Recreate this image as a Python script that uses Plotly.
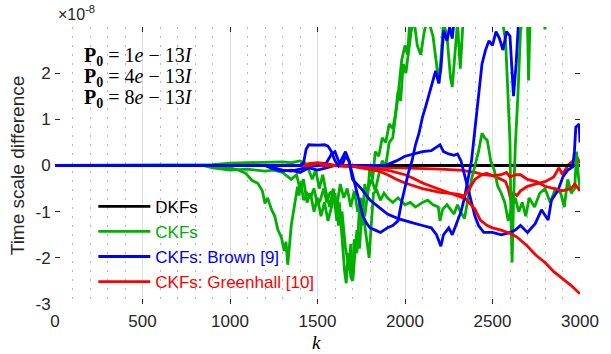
import plotly.graph_objects as go

# ---------------- data (time-scale difference, in units of 1e-8) ----------------
dkf_k = [0, 3000]
dkf_v = [0, 0]

# CKFs (green), three initial covariances
g1_k = [0, 850, 900, 950, 1000, 1050, 1090, 1125, 1160, 1185, 1200, 1215, 1237, 1256, 1274, 1293, 1310, 1320,
        1330, 1340, 1350, 1367, 1386, 1395, 1405, 1420, 1440, 1460, 1480, 1500, 1516, 1535, 1553, 1570, 1590,
        1610, 1630, 1650, 1670, 1690, 1710, 1730, 1750, 1770, 1785, 1795, 1805, 1820, 1840, 1860, 1880, 1900,
        1930, 1960, 2000, 2030, 2060, 2100, 2130, 2160, 2190, 2200, 2215, 2240, 2260, 2280, 2300, 2316, 2340,
        2360, 2380, 2400, 2420, 2440, 2455, 2470, 2490, 2510, 2530, 2550, 2570, 2590, 2610, 2630, 2650, 2670,
        2690, 2710, 2740, 2770, 2800, 2830, 2860, 2890, 2910, 2930, 2950, 2970, 2980, 2990, 3000]
g1_v = [0, 0, -0.03, -0.06, -0.05, -0.1, -0.17, -0.32, -0.39, -0.55, -0.82, -0.7, -0.95, -1.1, -1.4, -1.55, -1.85, -1.65,
        -2.15, -1.8, -1.3, -0.9, -0.46, -0.65, -0.35, -0.75, -0.6, -0.7, -0.5, -0.85, -0.75, -0.5, -0.8, -0.6, -0.55,
        -0.9, -0.4, -0.7, -0.5, -0.9, -0.55, -1.0, -0.7, -1.3, -1.7, -2.0, -1.4, -0.6, -0.55, -0.75, -0.6, -0.7,
        -0.8, -0.7, -0.85, -0.8, -0.9, -0.8, -0.75, -0.85, -0.9, -1.2, -0.95, -0.85, -0.95, -1.05, -0.85, -1.0, -1.15,
        -0.7, -0.3, 0.0, 0.3, 0.7, 0.6, 0.55, 0.1, -0.1, -0.45, -0.6, -0.8, -1.2, -0.9, -0.7, -1.0, -0.8,
        -1.1, -0.7, -0.9, -0.6, -0.5, -0.8, -0.5, -0.6, -0.9, -0.3, -0.6, -0.5, 0.3, -0.2, -0.5]

g2_k = [0, 900, 1000, 1100, 1200, 1300, 1350, 1400, 1430, 1450, 1470, 1490, 1510, 1530, 1550, 1570, 1590, 1610,
        1625, 1640, 1655, 1664, 1675, 1690, 1700, 1710, 1725, 1740, 1755, 1770, 1785, 1800, 1815, 1830, 1850,
        1870, 1890, 1910, 1930, 1945, 1960, 1975, 1990, 2005, 2020, 2035, 2050, 2070, 2090, 2110, 2130, 2160,
        2180, 2193, 2205, 2220, 2240, 2260, 2270, 2285, 2300, 2316, 2330, 2350, 2400, 2450, 2500, 2540, 2560,
        2575, 2590, 2600, 2605, 2612, 2620, 2630, 2645, 2660, 2680, 2700, 2706, 2715, 2750, 2790, 2800, 2810,
        2850, 2900, 3000]
g2_v = [0, 0.02, 0.05, 0.06, 0.07, 0.08, 0.06, 0.1, 0.05, -0.1, -0.3, -0.1, -0.5, -0.2, -0.6, -0.9, -0.5, -1.2,
        -0.8, -1.6, -2.3, -2.55, -1.9, -2.4, -2.5, -1.6, -1.9, -0.9, -1.3, -0.4, -0.7, 0.0, -0.3, 0.3, 0.2,
        0.6, 0.5, 0.9, 0.8, 1.1, 1.6, 1.4, 2.2, 2.0, 2.5, 2.9, 3.2, 2.6, 2.4, 2.9, 3.2, 2.8,
        2.2, 1.78, 2.3, 3.1, 2.8, 1.9, 1.7, 2.4, 3.1, 2.1, 3.0, 3.4, 3.6, 3.5, 3.6, 3.4, 3.05,
        2.7, 1.4, 0.5, -1.0, -2.1, -0.8, 0.4, 1.5, 2.9, 3.4, 3.1, 1.84, 3.2, 3.5, 3.2, 2.95, 3.3,
        3.6, 3.8, 4.0]

g3_k = [0, 850, 900, 1000, 1100, 1200, 1250, 1300, 1350, 1380, 1400, 1420, 1440, 1460, 1480, 1500, 1520, 1540,
        1560, 1580, 1600, 1620, 1640, 1660, 1680, 1690, 1702, 1712, 1725, 1740, 1755, 1770, 1790, 1810, 1830,
        1850, 1870, 1890, 1910, 1930, 1943, 1960, 1981, 2000, 2015, 2030, 2060, 2100, 2200, 2300, 2400, 2500,
        2600, 2700, 2800, 2900, 3000]
g3_v = [0, 0, -0.05, -0.1, -0.08, -0.12, -0.1, -0.15, -0.3, -0.2, -0.5, -0.3, -0.8, -0.6, -1.0, -0.7, -1.1, -0.8,
        -1.2, -0.9, -0.6, -1.3, -1.0, -1.8, -2.2, -1.7, -2.48, -2.0, -1.4, -1.8, -0.9, -1.1, -0.5, -0.3, -0.55,
        -0.2, 0.1, 0.0, 0.5, 0.6, 1.0, 1.5, 2.28, 2.6, 2.4, 3.3, 3.6, 3.8, 4.0, 4.0, 4.0, 4.0,
        4.0, 4.0, 4.0, 4.0, 4.0]

# CKFs: Brown [9] (blue)
b1_k = [0, 1400, 1420, 1435, 1450, 1500, 1540, 1560, 1580, 1600, 1620, 1640, 1660, 1680, 1700, 1720, 1740, 1760,
        1780, 1800, 1830, 1860, 1880, 1900, 1930, 1960, 1980, 2000, 2020, 2040, 2060, 2080, 2100, 2120, 2150,
        2175, 2193, 2205, 2221, 2240, 2255, 2270, 2285, 2400, 2600, 2800, 3000]
b1_v = [0, 0, 0.05, 0.35, 0.45, 0.44, 0.45, 0.42, 0.3, 0.1, 0.0, 0.15, 0.3, 0.1, -0.2, -0.5, -0.85, -1.1,
        -1.25, -1.35, -1.4, -1.45, -1.4, -1.35, -1.3, -1.2, -0.8, -0.45, -0.15, 0.1, 0.45, 0.7, 1.05, 1.3, 1.7,
        2.05, 1.78, 2.1, 2.92, 2.7, 3.0, 2.75, 3.3, 4.0, 4.0, 4.0, 4.0]

b2_k = [0, 1200, 1250, 1300, 1350, 1400, 1450, 1500, 1550, 1580, 1600, 1620, 1640, 1660, 1680, 1700, 1750, 1800,
        1850, 1900, 1960, 2000, 2050, 2100, 2150, 2180, 2205, 2220, 2250, 2270, 2300, 2320, 2340, 2360, 2380,
        2400, 2420, 2440, 2460, 2480, 2500, 2520, 2540, 2560, 2580, 2600, 2620, 2635, 2650, 2700, 2800, 2900, 3000]
b2_v = [0, 0, -0.05, -0.1, -0.12, -0.08, -0.02, 0, 0.05, 0.25, 0.3, 0.1, 0.0, 0.2, 0.1, -0.3, -0.5, -0.75,
        -0.9, -1.05, -1.15, -1.2, -1.25, -1.3, -1.35, -1.5, -1.75, -1.5, -1.35, -1.5, -1.2, -1.0, -0.7, -0.3, 0.1,
        0.8, 1.5, 2.2, 2.5, 2.7, 2.6, 2.9, 2.75, 2.5, 2.9, 2.8, 1.5, 2.2, 3.2, 3.6, 3.8, 4.0, 4.0]

b3_k = [0, 1200, 1250, 1300, 1350, 1400, 1450, 1500, 1550, 1600, 1700, 1800, 1880, 1900, 1950, 2000, 2050, 2100,
        2150, 2180, 2200, 2220, 2250, 2280, 2300, 2320, 2340, 2360, 2380, 2400, 2420, 2450, 2500, 2550, 2600,
        2630, 2660, 2700, 2744, 2780, 2818, 2837, 2874, 2902, 2930, 2958, 2968, 2976, 2995, 3000]
b3_v = [0, 0, -0.08, -0.12, -0.1, -0.15, -0.05, -0.1, -0.05, 0, 0, 0, 0, 0.02, 0.1, 0.2, 0.25, 0.3,
        0.32, 0.4, 0.45, 0.3, 0.25, 0.22, 0.25, 0.1, -0.2, -0.5, -0.85, -1.1, -1.3, -1.45, -1.45, -1.5, -1.45,
        -1.4, -1.3, -1.45, -1.26, -0.96, -1.18, -0.75, -0.54, -0.25, -0.1, -0.03, 0.3, 0.83, 0.9, 0.5]

# CKFs: Greenhall [10] (red)
r1_k = [0, 1600, 1700, 1800, 1850, 1900, 1950, 2000, 2100, 2200, 2300, 2330, 2360, 2400, 2430, 2470, 2500, 2550,
        2600, 2640, 2700, 2750, 2800, 2850, 2900, 2950, 3000]
r1_v = [0, 0, -0.02, -0.08, -0.12, -0.2, -0.3, -0.38, -0.5, -0.58, -0.62, -0.65, -0.78, -0.95, -1.18, -1.3, -1.35, -1.4,
        -1.47, -1.55, -1.75, -1.95, -2.1, -2.3, -2.45, -2.6, -2.78]

r2_k = [0, 1450, 1500, 1550, 1600, 1700, 1800, 1900, 2000, 2050, 2100, 2200, 2300, 2330, 2360, 2400, 2430, 2465,
        2500, 2550, 2580, 2600, 2630, 2660, 2700, 2750, 2800, 2850, 2900, 2950, 2970, 3000]
r2_v = [0, 0, 0.05, 0.03, 0, -0.02, -0.05, -0.1, -0.2, -0.28, -0.38, -0.52, -0.66, -0.7, -0.55, -0.3, -0.22, -0.17,
        -0.22, -0.2, -0.15, -0.25, -0.2, -0.2, -0.3, -0.35, -0.45, -0.5, -0.55, -0.5, -0.4, -0.55]

r3_k = [0, 1400, 1450, 1500, 1550, 1600, 1700, 1800, 1900, 2000, 2100, 2200, 2316, 2400, 2450, 2500, 2550, 2575,
        2590, 2605, 2620, 2640, 2660, 2700, 2750, 2800, 2850, 2880, 2900, 2930, 2960, 2980, 3000]
r3_v = [0, 0, 0.04, 0.06, 0.04, 0.0, -0.02, -0.03, -0.04, -0.05, -0.06, -0.08, -0.1, -0.15, -0.2, -0.22, -0.3, -0.35,
        -0.5, -0.75, -0.6, -0.65, -0.55, -0.45, -0.4, -0.35, -0.25, -0.05, -0.2, 0.0, 0.1, 0.2, 0.05]

legend_names = ["DKFs", "CKFs", "CKFs: Brown [9]", "CKFs: Greenhall [10]"]
p0_labels = ["1", "4", "8"]
x_ticks = [0, 500, 1000, 1500, 2000, 2500, 3000]
y_ticks = [-3, -2, -1, 0, 1, 2]
y_ticktext = ["-3", "-2", "-1", "0", "1", "2"]

# ---------------- styling ----------------
BLACK, GREEN, BLUE, RED = "#000000", "#00b000", "#0000ff", "#ff0000"
colors = [BLACK, GREEN, BLUE, RED]
LW = 2.8
AX = "#262626"

fig = go.Figure()

# legend entries (no data)
for ci, nm in enumerate(legend_names):
    fig.add_trace(go.Scatter(
        x=[None], y=[None], mode="lines",
        line=dict(color=colors[ci], width=LW),
        name=f"<span style='color:{colors[ci]}'>{nm}</span>",
        showlegend=True, hoverinfo="skip",
    ))

# data series in drawing order (series, colour index)
draw_order = [
    (r3_k, r3_v, 3),
    (dkf_k, dkf_v, 0),
    (g1_k, g1_v, 1),
    (g3_k, g3_v, 1),
    (g2_k, g2_v, 1),
    (b3_k, b3_v, 2),
    (r1_k, r1_v, 3),
    (b2_k, b2_v, 2),
    (r2_k, r2_v, 3),
    (b1_k, b1_v, 2),
]
for z, (kx, vy, ci) in enumerate(draw_order):
    assert len(kx) == len(vy)
    fig.add_trace(go.Scatter(
        x=kx, y=vy, mode="lines",
        line=dict(color=colors[ci], width=LW),
        showlegend=False, hoverinfo="skip", zorder=z + 1,
    ))

fig.update_layout(
    width=611, height=354,
    margin=dict(l=55, r=18, t=27, b=50),
    paper_bgcolor="white", plot_bgcolor="white",
    font=dict(family="Liberation Sans, Arial, sans-serif", color=AX, size=17),
    showlegend=True,
    legend=dict(
        x=0.073, y=0.416, xanchor="left", yanchor="top",
        bgcolor="rgba(0,0,0,0)", borderwidth=0,
        font=dict(size=17, family="Liberation Sans, Arial, sans-serif"),
        itemwidth=52, tracegroupgap=0,
        traceorder="normal",
    ),
)

fig.update_xaxes(
    range=[0, 3000], tickvals=x_ticks, ticks="inside", ticklen=5, tickcolor=AX,
    showline=True, linecolor=AX, linewidth=1, mirror="ticks",
    showgrid=True, gridcolor="#dedede", gridwidth=1, zeroline=False,
    minor=dict(dtick=100, showgrid=True, gridcolor="#b8b8b8", griddash="2px,7px", gridwidth=1),
    tickfont=dict(size=17, color=AX), ticklabeloverflow="allow", ticklabelstandoff=2,
)
fig.update_yaxes(
    range=[-3, 3], tickvals=y_ticks, ticktext=y_ticktext, ticks="inside", ticklen=5, tickcolor=AX,
    showline=True, linecolor=AX, linewidth=1, mirror="ticks",
    showgrid=False, zeroline=False, ticklabeloverflow="allow",
    tickfont=dict(size=17, color=AX),
    title=dict(text="Time scale difference", font=dict(size=19, color=AX), standoff=5),
)

# x-axis label (italic k), placed like the reference
fig.add_annotation(
    xref="paper", yref="paper", x=0.498, y=(304 - 342) / 277,
    xanchor="center", yanchor="middle", showarrow=False,
    text="<i>k</i>", font=dict(family="Liberation Serif, serif", size=19, color="#000000"),
)

# multiplier label
fig.add_annotation(
    xref="paper", yref="paper", x=0.0, y=1.0, xanchor="left", yanchor="bottom", yshift=2, xshift=1,
    text="\u00d710<sup>-8</sup>", showarrow=False, font=dict(size=16, color=AX),
)

# P0 labels
p0_ypix = [56, 77, 98]
for lab, yp in zip(p0_labels, p0_ypix):
    fig.add_annotation(
        xref="paper", yref="paper", x=(83 - 55) / 538, y=(304 - yp) / 277,
        xanchor="left", yanchor="middle", showarrow=False,
        text=f"<b>P</b><sub><b>0</b></sub> = {lab}<i>e</i> \u2212 13<i>I</i>",
        font=dict(family="Liberation Serif, serif", size=20, color="#000000"),
    )

fig.write_html(
    "out.html",
    config={"displayModeBar": False},
    post_script="document.body.style.margin='0';document.body.style.padding='0';",
)
